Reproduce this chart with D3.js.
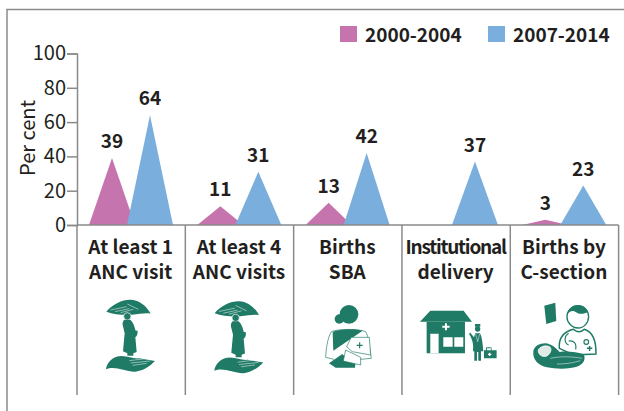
<!DOCTYPE html>
<html><head><meta charset="utf-8">
<script src="https://cdn.jsdelivr.net/npm/d3@7"></script>
<style>html,body{margin:0;padding:0;background:#fff;overflow:hidden}svg{display:block}text{font-family:"Noto Sans CJK SC","Noto Sans",sans-serif;fill:#231f20}</style>
</head><body><svg id="c" width="624" height="411"></svg>
<script>
const categories=["At least 1|ANC visit","At least 4|ANC visits","Births|SBA","Institutional|delivery","Births by|C-section"];
const seriesNames=["2000-2004","2007-2014"];
const values2000=[39,11,13,null,3];
const values2007=[64,31,42,37,23];
const yTicks=[0,20,40,60,80,100];
const seriesColors=["#c574ae","#7aaedd"];
const iconKinds=["anc","anc","nurse","clinic","csection"];

const grey="#8a8a8a", green="#1f7a66";
const svg=d3.select("#c");
const x=d3.scaleBand().domain(categories).range([77,618.6]);
const inner=d3.scalePoint().domain(seriesNames).range([35,73]);
const y=d3.scaleLinear().domain([0,100]).range([225,53.5]);
const halfW=23;

svg.append("path").attr("d","M7,411V9.5H624").attr("fill","none").attr("stroke",grey).attr("stroke-width",1.5);

[values2000,values2007].forEach((vals,s)=>{
  const name=seriesNames[s];
  const rows=categories.map((c,i)=>({c,v:vals[i]})).filter(d=>d.v!=null);
  svg.append("g").selectAll("path").data(rows).join("path")
    .attr("fill",seriesColors[s])
    .attr("d",d=>{const cx=x(d.c)+inner(name);return `M${cx-halfW},${y(0)}L${cx},${y(d.v)}L${cx+halfW},${y(0)}Z`;});
  svg.append("g").selectAll("text").data(rows).join("text")
    .attr("x",d=>x(d.c)+inner(name)).attr("y",d=>y(d.v)-10)
    .attr("text-anchor","middle").attr("font-size",19).attr("font-weight",700).text(d=>d.v);
});

const gy=svg.append("g").attr("transform","translate(77,0)").call(d3.axisLeft(y).tickValues(yTicks).tickSize(10).tickPadding(1));
gy.select(".domain").attr("stroke",grey).attr("stroke-width",1.5);
gy.selectAll("line").attr("stroke",grey).attr("stroke-width",1.5);
gy.selectAll("text").attr("font-size",20).style("font-family",'"Noto Sans CJK SC"').attr("fill","#231f20");
svg.append("text").attr("transform","translate(34.5,138) rotate(-90)").attr("text-anchor","middle").attr("font-size",20).text("Per cent");

svg.append("line").attr("x1",77).attr("x2",618.6).attr("y1",y(0)).attr("y2",y(0)).attr("stroke",grey).attr("stroke-width",1.5);
svg.append("g").selectAll("line").data(categories.map(c=>x(c)).concat([x.range()[1]])).join("line")
  .attr("x1",d=>d).attr("x2",d=>d).attr("y1",y(0)).attr("y2",395).attr("stroke",grey).attr("stroke-width",1.5);

categories.forEach(c=>{
  const t=svg.append("text").attr("text-anchor","middle").attr("font-size",19).attr("font-weight",700);
  c.split("|").forEach((ln,i)=>{
    const s=t.append("tspan").attr("x",x(c)+x.bandwidth()/2-0.5).attr("y",254+i*25).text(ln);
    if(ln==="Institutional") s.attr("letter-spacing",-1.25);
  });
});

const legendX=[340,488];
seriesNames.forEach((n,i)=>{
  svg.append("rect").attr("x",legendX[i]).attr("y",26).attr("width",17).attr("height",16).attr("fill",seriesColors[i]);
  svg.append("text").attr("x",legendX[i]+25).attr("y",42).attr("font-size",19).attr("font-weight",700).text(n);
});

// pictograms, drawn in a 3x local space
const icons={
 anc:{dx:-7,dy:290,draw(g){
  g.append("path").attr("fill",green).attr("d","M109,65C128,42,158,28,183,29C208,30,232,50,242,71C226,68,208,73,186,74C160,75,132,74,109,65Z");
  g.append("path").attr("fill","none").attr("stroke","#fff").attr("stroke-width",1.5).attr("d","M122,60L170,50M135,65L178,56M152,68L190,58M172,42L205,58");
  g.append("circle").attr("cx",172).attr("cy",79).attr("r",11).attr("fill",green).attr("stroke","#fff").attr("stroke-width",2);
  g.append("path").attr("fill",green).attr("d","M163,89L181,89C190,97,194,110,196,121L203,123C203,135,200,140,196,141L200,186L190,190L190,197L172,197L172,190L159,184L164,130L158,105C157,97,159,93,163,89Z");
  g.append("path").attr("fill",green).attr("d","M108,238C110,216,130,198,155,198C175,198,190,207,208,205L255,213C240,228,222,242,196,245C170,247,135,226,108,238Z");
  g.append("path").attr("fill","none").attr("stroke","#fff").attr("stroke-width",1.5).attr("d","M178,212L235,205M182,219L240,213M188,226L230,220");
 }},
 nurse:{dx:17,dy:300,draw(g){
  g.append("circle").attr("cx",86).attr("cy",57).attr("r",14).attr("fill",green);
  g.append("circle").attr("cx",115).attr("cy",43).attr("r",28).attr("fill",green);
  g.append("path").attr("fill","none").attr("stroke",green).attr("stroke-width",2).attr("d","M62,95C50,115,46,150,45,172L70,178M62,95C80,87,140,85,165,95C175,110,178,150,182,175L150,178L105,155");
  g.append("path").attr("fill",green).attr("d","M66,96C85,87,125,85,156,92L68,152Z");
  g.append("path").attr("fill",green).attr("d","M55,190L95,162L108,175L136,175L133,203L75,203Z");
  g.append("path").attr("fill","#fff").attr("stroke",green).attr("stroke-width",2).attr("d","M122,112L176,112L180,165L125,155L108,140Z");
  g.append("path").attr("fill","#fff").attr("stroke",green).attr("stroke-width",2).attr("d","M105,150L150,172L150,195L98,183Z");
  g.append("path").attr("stroke",green).attr("stroke-width",3.5).attr("fill","none").attr("d","M147,127V145M138,136H156");
 }},
 clinic:{dx:-1,dy:290,draw(g){
  g.append("path").attr("fill",green).attr("d","M57,95L88,62H188L213,95Z");
  g.append("path").attr("fill",green).attr("d","M77,95H192V190H77Z");
  g.append("path").attr("fill","#fff").attr("d","M88,131H113V190H88ZM127,142H155V170H127ZM160,142H187V170H160ZM132,100H138V107H146V113H138V121H132V113H124V107H132Z");
  g.append("circle").attr("cx",230).attr("cy",117).attr("r",8).attr("fill",green);
  g.append("path").attr("fill",green).attr("d","M222,102H238V110H222ZM223,130L237,130C243,140,245,160,247,184L240,184L240,212L232,212L232,186L228,186L228,212L220,212L220,184L216,184C218,165,216,150,204,131L208,128L219,142Z");
  g.append("path").attr("fill","none").attr("stroke","#fff").attr("stroke-width",1.5).attr("d","M224,132L230,155L236,132");
  g.append("path").attr("fill",green).attr("d","M249,181H255V173C255,171,272,171,272,173V181H287V205H249Z");
  g.append("path").attr("fill","#fff").attr("d","M264,188H268V191H271V195H268V198H264V195H261V191H264ZM258,175H270V181H258Z");
 }},
 csection:{dx:-110,dy:290,draw(g){
  g.append("path").attr("fill",green).attr("d","M432,47L465,38L468,93L438,102Z");
  g.append("path").attr("fill","#fff").attr("stroke",green).attr("stroke-width",4).attr("d","M500,80C500,62,515,47,533,47C551,47,565,62,565,80C565,98,551,114,533,114C515,114,500,98,500,80Z");
  g.append("path").attr("fill",green).attr("d","M502,72C510,62,518,60,530,68C540,74,552,72,563,66C558,52,546,46,533,46C518,46,506,56,502,72Z");
  g.append("path").attr("fill","#fff").attr("stroke",green).attr("stroke-width",4.5).attr("d","M477,175C475,145,490,125,520,118C530,128,540,128,552,118C575,125,588,150,587,192L520,195Z");
  g.append("path").attr("fill","none").attr("stroke",green).attr("stroke-width",3.5).attr("d","M505,130C490,140,492,160,505,165M505,153C520,150,530,160,526,178");
  g.append("circle").attr("cx",558).attr("cy",156).attr("r",7).attr("fill","none").attr("stroke",green).attr("stroke-width",3.5);
  g.append("path").attr("stroke",green).attr("stroke-width",4.5).attr("fill","none").attr("d","M568,168V183M560,175H576");
  g.append("path").attr("fill",green).attr("d","M399,185C401,168,418,160,435,160C452,162,465,172,478,186C500,183,530,186,549,192C557,202,553,220,535,228C510,238,470,238,440,232C415,226,397,210,399,185Z");
  g.append("path").attr("fill","#dfeae6").attr("stroke","#fff").attr("stroke-width",2).attr("d","M414,180C418,170,435,164,448,170C456,176,452,190,440,198C428,204,412,194,414,180Z");
  g.append("path").attr("fill","none").attr("stroke","#fff").attr("stroke-width",1.5).attr("d","M450,205C480,198,520,200,545,205M470,222C500,222,520,218,540,212");
 }}
};
categories.forEach((c,i)=>{
  const ic=icons[iconKinds[i]];
  const yy=ic.dy+(i===1?1.5:0);
  const g=svg.append("g").attr("transform",`translate(${x(c)+ic.dx},${yy}) scale(${1/3})`);
  ic.draw(g);
});
</script></body></html>
